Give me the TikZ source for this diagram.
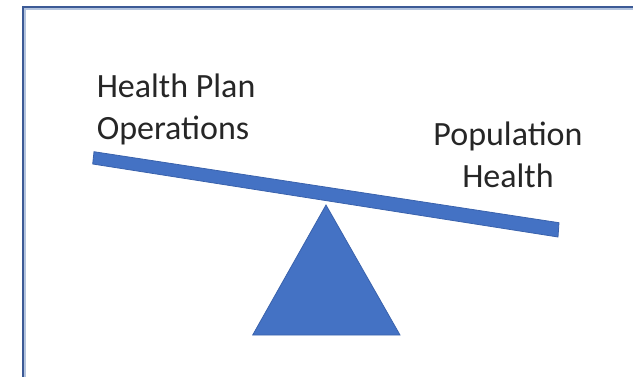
\documentclass[tikz,border=0pt]{standalone}
\usepackage{fontspec}
\setmainfont{Carlito}
\definecolor{officeblue}{HTML}{4472C4}
\definecolor{edgeblue}{HTML}{3A62AC}
\definecolor{framedark}{HTML}{3C5A96}
\definecolor{framelight}{HTML}{B4C4DE}
\begin{document}
\begin{tikzpicture}[x=0.75pt,y=-0.75pt,
  label/.style={inner sep=0pt,font=\fontsize{25.5pt}{30pt}\selectfont,text=black!85},
  shapefill/.style={fill=officeblue,draw=edgeblue,line width=0.6pt,line join=miter}]
\useasboundingbox (0,0) rectangle (633,376);
% frame
\draw[framedark,line width=1.2pt] (23.2,380) -- (23.2,7.2) -- (640,7.2);
\draw[framelight,line width=0.8pt] (25,380) -- (25,9) -- (640,9);
% beam
\path[shapefill] (94,151.7) -- (559,222.7) -- (558,237) -- (92.7,164) -- cycle;
% fulcrum
\path[shapefill] (326,205) -- (400,335) -- (252.7,335) -- cycle;
% labels
\node[label,anchor=base west] (hp1) at (96.5,97.3) {Health Plan};
\node[label,anchor=base west] (hp2) at (96.5,139) {Operations};
\node[label,anchor=base] (ph1) at (508,145.7) {Population};
\node[label,anchor=base] (ph2) at (508,187.3) {Health};
\end{tikzpicture}
\end{document}
